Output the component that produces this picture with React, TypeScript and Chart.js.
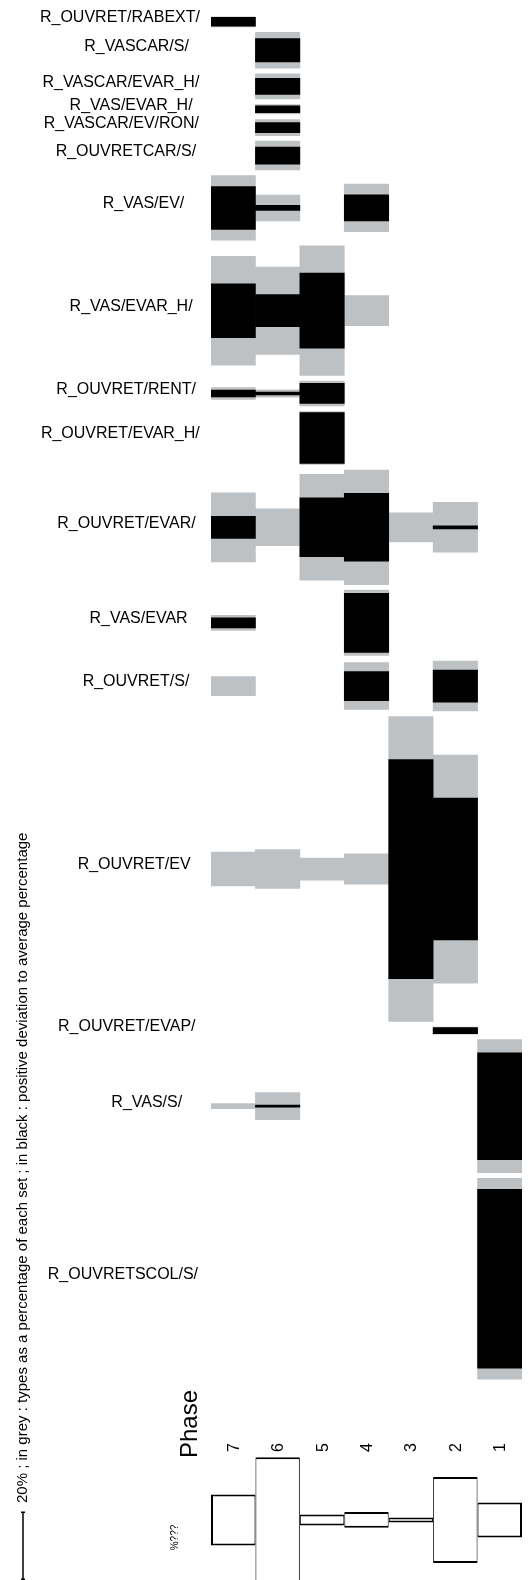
import React, { useEffect, useRef } from "react";
import { Chart, registerables } from "chart.js";

Chart.register(...registerables);

// Phases, left to right
const phases = ["7", "6", "5", "4", "3", "2", "1"];

// Types (rows), top to bottom
const typeLabels = [
  "R_OUVRET/RABEXT/",
  "R_VASCAR/S/",
  "R_VASCAR/EVAR_H/",
  "R_VAS/EVAR_H/",
  "R_VASCAR/EV/RON/",
  "R_OUVRETCAR/S/",
  "R_VAS/EV/",
  "R_VAS/EVAR_H/",
  "R_OUVRET/RENT/",
  "R_OUVRET/EVAR_H/",
  "R_OUVRET/EVAR/",
  "R_VAS/EVAR",
  "R_OUVRET/S/",
  "R_OUVRET/EV",
  "R_OUVRET/EVAP/",
  "R_VAS/S/",
  "R_OUVRETSCOL/S/",
];

// Grey: type as a percentage of each phase set (columns = phases 7..1)
const greyPct = [
  [3.0, 0, 0, 0, 0, 0, 0],
  [0, 10.7, 0, 0, 0, 0, 0],
  [0, 7.5, 0, 0, 0, 0, 0],
  [0, 2.8, 0, 0, 0, 0, 0],
  [0, 4.8, 0, 0, 0, 0, 0],
  [0, 8.6, 0, 0, 0, 0, 0],
  [19.3, 7.7, 0, 14.2, 0, 0, 0],
  [32.5, 26.1, 38.7, 9.0, 0, 0, 0],
  [3.5, 2.2, 7.4, 0, 0, 0, 0],
  [0, 0, 15.8, 0, 0, 0, 0],
  [20.6, 11.0, 31.6, 34.2, 8.7, 14.9, 0],
  [4.5, 0, 0, 19.5, 0, 0, 0],
  [5.7, 0, 0, 14.0, 0, 14.9, 0],
  [10.1, 11.6, 6.6, 9.0, 91.0, 68.1, 0],
  [0, 0, 0, 0, 0, 2.1, 0],
  [1.5, 8.1, 0, 0, 0, 0, 39.7],
  [0, 0, 0, 0, 0, 0, 60.0],
];

// Black: positive deviation to the average percentage
const blackPct = [
  [2.6, 0, 0, 0, 0, 0, 0],
  [0, 7.0, 0, 0, 0, 0, 0],
  [0, 4.8, 0, 0, 0, 0, 0],
  [0, 2.0, 0, 0, 0, 0, 0],
  [0, 3.0, 0, 0, 0, 0, 0],
  [0, 5.1, 0, 0, 0, 0, 0],
  [12.8, 1.5, 0, 7.8, 0, 0, 0],
  [16.1, 9.6, 22.4, 0, 0, 0, 0],
  [2.0, 0.8, 6.0, 0, 0, 0, 0],
  [0, 0, 15.2, 0, 0, 0, 0],
  [6.6, 0, 17.6, 20.3, 0, 0.9, 0],
  [3.0, 0, 0, 17.6, 0, 0, 0],
  [0, 0, 0, 8.7, 0, 9.6, 0],
  [0, 0, 0, 0, 65.4, 42.4, 0],
  [0, 0, 0, 0, 0, 1.8, 0],
  [0, 0.6, 0, 0, 0, 0, 31.9],
  [0, 0, 0, 0, 0, 0, 53.4],
];

// Relative size of each phase set (bottom outlined boxes)
const phaseSizePct = [15.2, 37.5, 3.3, 4.7, 1.5, 25.7, 10.4];

const scaleBarPct = 20;
const captionText =
  "20% ; in grey : types as a percentage of each set ; in black : positive deviation to average percentage";

// Layout (in percentage units of the vertical scale)
const W = 532;
const H = 1580;
const PX_PER_PCT = 3.35;
const Y_MAX = H / PX_PER_PCT;
const TOP_OFFSET = 5.0;
const ROW_GAP = 1.67;
const BOX_OFFSET = 42;
const GREY = "#bec1c3";
const FONT = '"Liberation Sans", Arial, Helvetica, sans-serif';

function computeCenters() {
  const centers: number[] = [];
  let y = TOP_OFFSET;
  greyPct.forEach((row) => {
    const m = Math.max(...row);
    centers.push(y + m / 2);
    y += m + ROW_GAP;
  });
  return { centers, bottom: y - ROW_GAP };
}

export default function App() {
  const ref = useRef<HTMLCanvasElement | null>(null);

  useEffect(() => {
    if (!ref.current) return;
    const { centers, bottom } = computeCenters();
    const boxCenter = bottom + BOX_OFFSET;

    const datasets: any[] = [];
    typeLabels.forEach((_, i) => {
      const c = centers[i];
      datasets.push({
        label: "black " + i,
        data: blackPct[i].map((b) => (b > 0 ? [c - b / 2, c + b / 2] : null)),
        backgroundColor: "#000000",
        borderWidth: 0,
        order: 0,
      });
      datasets.push({
        label: "grey " + i,
        data: greyPct[i].map((g) => (g > 0 ? [c - g / 2, c + g / 2] : null)),
        backgroundColor: GREY,
        borderWidth: 0,
        order: 1,
      });
    });
    datasets.push({
      label: "sets",
      data: phaseSizePct.map((v) => [boxCenter - v / 2, boxCenter + v / 2]),
      backgroundColor: "#ffffff",
      borderColor: "#000000",
      borderSkipped: false,
      inflateAmount: 0,
      borderWidth: (ctx: any) => ({
        top: 2,
        bottom: 2,
        left: ctx.dataIndex === 0 ? 2 : 1,
        right: ctx.dataIndex === phaseSizePct.length - 1 ? 2 : 1,
      }),
      order: 2,
    });

    const textPlugin = {
      id: "texts",
      afterDraw(chart: any) {
        const ctx = chart.ctx as CanvasRenderingContext2D;
        const ys = chart.scales.y;
        const xs = chart.scales.x;
        ctx.save();
        ctx.fillStyle = "#000";
        // Row labels
        ctx.font = `16px ${FONT}`;
        ctx.textAlign = "left";
        ctx.textBaseline = "middle";
        typeLabels.forEach((lab, i) => {
          const w = ctx.measureText(lab).width;
          const x = 168 - 0.8 * w;
          const y = ys.getPixelForValue(centers[i]) - 4;
          ctx.fillText(lab, x, y);
        });
        const rotText = (t: string, x: number, y: number, font: string, align: CanvasTextAlign) => {
          ctx.save();
          ctx.translate(x, y);
          ctx.rotate(-Math.PI / 2);
          ctx.font = font;
          ctx.textAlign = align;
          ctx.textBaseline = "alphabetic";
          ctx.fillText(t, 0, 0);
          ctx.restore();
        };
        // Phase tick labels (rotated)
        phases.forEach((p, j) => {
          rotText(p, xs.getPixelForValue(j) + 5.5, 1447.5, `16px ${FONT}`, "center");
        });
        rotText("Phase", 197, 1424, `24px ${FONT}`, "center");
        rotText("%???", 178, 1537.5, `10px ${FONT}`, "center");
        // Caption
        rotText(captionText, 27, 1503, `15px ${FONT}`, "left");
        // Scale bar (20%)
        const len = ys.getPixelForValue(scaleBarPct) - ys.getPixelForValue(0);
        const yb = 1579.3;
        const yt = yb - len;
        ctx.strokeStyle = "#000";
        ctx.lineWidth = 1.5;
        ctx.beginPath();
        ctx.moveTo(23, yt);
        ctx.lineTo(23, yb);
        ctx.moveTo(21, yt);
        ctx.lineTo(25, yt);
        ctx.moveTo(21, yb);
        ctx.lineTo(25, yb);
        ctx.stroke();
        ctx.restore();
      },
    };

    const chart = new Chart(ref.current, {
      type: "bar",
      data: { labels: phases, datasets },
      options: {
        animation: false,
        responsive: false,
        devicePixelRatio: 1,
        layout: { padding: { left: 211, right: 10, top: 0, bottom: 0 } },
        datasets: {
          bar: {
            categoryPercentage: 1,
            barPercentage: 1,
            grouped: false,
          },
        },
        scales: {
          x: { type: "category", display: false },
          y: { type: "linear", display: false, min: 0, max: Y_MAX, reverse: true },
        },
        plugins: { legend: { display: false }, tooltip: { enabled: false } },
      } as any,
      plugins: [textPlugin],
    });
    return () => chart.destroy();
  }, []);

  return (
    <div style={{ position: "absolute", left: 0, top: 0, width: W, height: H, background: "#fff" }}>
      <canvas ref={ref} width={W} height={H} style={{ display: "block", width: W, height: H }} />
    </div>
  );
}
